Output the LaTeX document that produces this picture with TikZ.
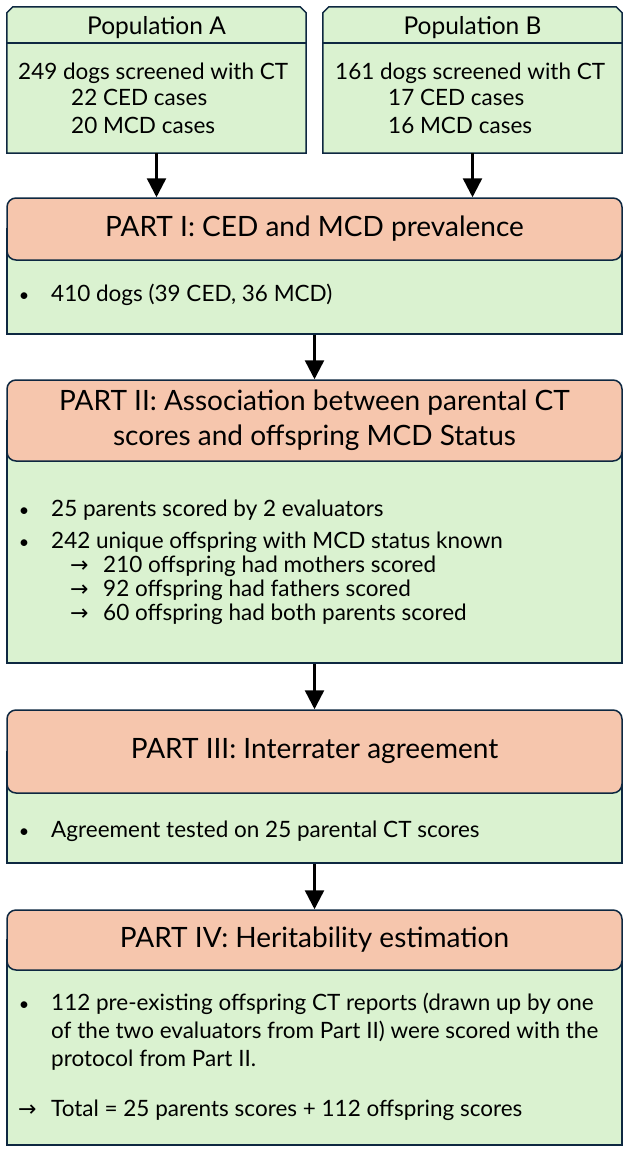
\documentclass[tikz,border=0pt]{standalone}
\usepackage{fontspec}
\setmainfont{Lato}
\newfontfamily\symbolFont{DejaVu Sans}
\usetikzlibrary{arrows.meta}

\newcommand{\bodySize}{\fontsize{22.5}{27}\selectfont}
\newcommand{\titleSize}{\fontsize{28}{35}\selectfont}

\begin{document}
\begin{tikzpicture}[x=1pt, y=-1pt,
    boxline/.style={draw=borderColour, line width=1.5pt},
    partbody/.style={boxline, fill=bodyColour, minimum width=615pt, inner sep=0pt},
    parthead/.style={boxline, fill=headColour, rounded corners=9pt, minimum width=615pt, inner sep=0pt, font=\titleSize, align=center},
    popframe/.style={minimum width=299pt, minimum height=146pt, inner sep=0pt},
    poptitle/.style={anchor=base, inner sep=0pt, font=\fontsize{24.5}{28}\selectfont},
    bodytext/.style={anchor=base west, inner sep=0pt, font=\bodySize},
    dotmark/.style={anchor=base, inner sep=0pt, font=\fontsize{18}{22}\selectfont},
    arrowmark/.style={anchor=base west, inner sep=0pt, font=\symbolFont\fontsize{22}{26}\selectfont},
    flow/.style={line width=2.5pt, -{Triangle[width=19pt,length=19pt]}}]
    \definecolor{borderColour}{HTML}{0E2841}
    \definecolor{bodyColour}{HTML}{DAF2D0}
    \definecolor{headColour}{HTML}{F6C6AD}

    \useasboundingbox (0,0) rectangle (630,1153);

    % the two populations
    \node[popframe] (popA) at (156.5,80) {};
    \node[popframe] (popB) at (472.5,80) {};
    \foreach \pop in {popA,popB}{
        \filldraw[boxline, fill=bodyColour] ([yshift=-6pt]\pop.north west) -- ([xshift=6pt]\pop.north west)
            -- ([xshift=-6pt]\pop.north east) -- ([yshift=-6pt]\pop.north east)
            -- (\pop.south east) -- (\pop.south west) -- cycle;
        \draw[boxline] ([yshift=-36pt]\pop.north west) -- ([yshift=-36pt]\pop.north east);
    }

    \node[poptitle] (popAtitle) at (156.5,35) {Population A};
    \node[bodytext] at (18,80) {249 dogs screened with CT};
    \node[bodytext] at (71,106) {22 CED cases};
    \node[bodytext] at (71,134) {20 MCD cases};

    \node[poptitle] (popBtitle) at (472.5,35) {Population B};
    \node[bodytext] at (335,80) {161 dogs screened with CT};
    \node[bodytext] at (388,106) {17 CED cases};
    \node[bodytext] at (388,134) {16 MCD cases};

    % part I
    \node[partbody, minimum height=105pt] (partIbody) at (314.5,281.5) {};
    \node[parthead, minimum height=62pt] (partI) at (314.5,229) {PART I: CED and MCD prevalence};
    \node[dotmark] at (24,301) {\textbullet};
    \node[bodytext] at (51,301) {410 dogs (39 CED, 36 MCD)};

    % part II
    \node[partbody, minimum height=242.5pt] (partIIbody) at (314.5,541.75) {};
    \node[parthead, minimum height=81pt] (partII) at (314.5,420.5) {PART II: Association between parental CT\\scores and offspring MCD Status};
    \node[dotmark] at (24,516) {\textbullet};
    \node[bodytext] at (51,516) {25 parents scored by 2 evaluators};
    \node[dotmark] at (24,548) {\textbullet};
    \node[bodytext] at (51,548) {242 unique offspring with MCD status known};
    \node[arrowmark] at (70,572) {→};
    \node[bodytext] at (103,572) {210 offspring had mothers scored};
    \node[arrowmark] at (70,596) {→};
    \node[bodytext] at (103,596) {92 offspring had fathers scored};
    \node[arrowmark] at (70,620) {→};
    \node[bodytext] at (103,620) {60 offspring had both parents scored};

    % part III
    \node[partbody, minimum height=111.5pt] (partIIIbody) at (314.5,807.25) {};
    \node[parthead, minimum height=83pt] (partIII) at (314.5,751.5) {PART III: Interrater agreement};
    \node[dotmark] at (24,837) {\textbullet};
    \node[bodytext] at (51,837) {Agreement tested on 25 parental CT scores};

    % part IV
    \node[partbody, minimum height=205pt] (partIVbody) at (314.5,1042.5) {};
    \node[parthead, minimum height=60pt] (partIV) at (314.5,940) {PART IV: Heritability estimation};
    \node[dotmark] at (24,1010) {\textbullet};
    \node[bodytext] at (51,1010) {112 pre-existing offspring CT reports (drawn up by one};
    \node[bodytext] at (51,1038) {of the two evaluators from Part II) were scored with the};
    \node[bodytext] at (51,1066) {protocol from Part II.};
    \node[arrowmark] at (18,1116) {→};
    \node[bodytext] at (51,1116) {Total = 25 parents scores + 112 offspring scores};

    \draw[flow] (popA.south) -- (popA.south |- partI.north);
    \draw[flow] (popB.south) -- (popB.south |- partI.north);
    \draw[flow] (partIbody.south) -- (partII.north);
    \draw[flow] (partIIbody.south) -- (partIII.north);
    \draw[flow] (partIIIbody.south) -- (partIV.north);

\end{tikzpicture}
\end{document}
